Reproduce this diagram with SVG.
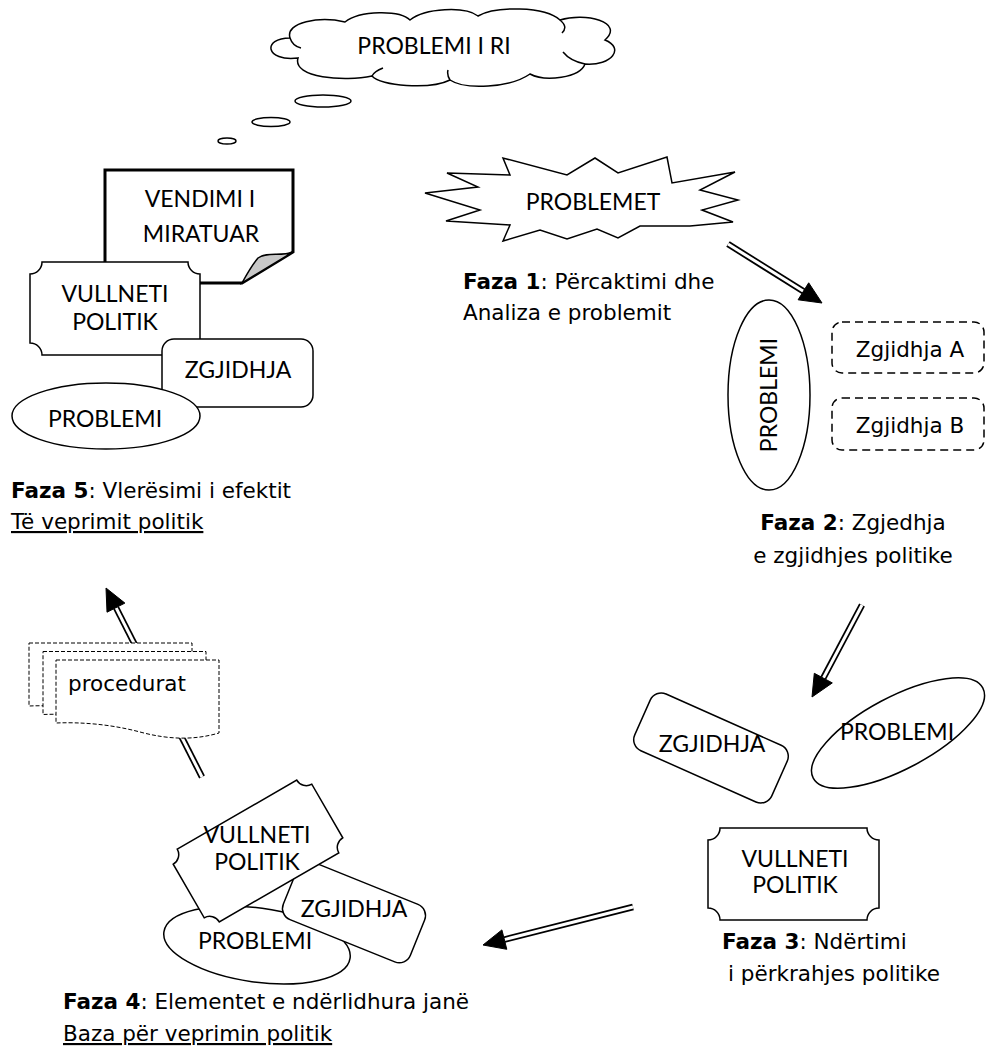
<svg xmlns="http://www.w3.org/2000/svg" width="987" height="1060" viewBox="0 0 987 1060">
<style>
.s{fill:#fff;stroke:#000;stroke-width:1.5}
.ln{fill:none;stroke:#000;stroke-width:1.5}
.dsh{fill:#fff;stroke:#000;stroke-width:1.5;stroke-dasharray:8 5}
.thin{fill:#fff;stroke:#000;stroke-width:1;stroke-dasharray:4 2}
.t{font-family:Lato,"Liberation Sans",Arial,sans-serif;font-size:23px;text-anchor:middle;fill:#000}
.f{font-family:"DejaVu Sans",Verdana,sans-serif;font-size:21.5px;fill:#000}
.m{text-anchor:middle}
.b{font-weight:bold}
.u{text-decoration:underline}
.so{fill:none;stroke:#000;stroke-width:6.5}
.si{fill:none;stroke:#fff;stroke-width:3}
.hd{fill:#000;stroke:#000;stroke-width:1}
</style>
<defs>
<path id="doc" d="M0,0 H163 V73 C139,80 114,80 84,72 C54,64 24,62 0,63 Z"/>
</defs>

<g id="connectors">
  <!-- Phase 1 -> Phase 2 -->
  <line class="so" x1="728" y1="244" x2="803.4" y2="291.3"/>
  <line class="si" x1="728" y1="244" x2="803.4" y2="291.3"/>
  <polygon class="hd" points="822,303 798.1,299.8 808.7,282.8"/>
  <!-- Phase 2 -> Phase 3 -->
  <line class="so" x1="862" y1="605" x2="823.3" y2="678.1"/>
  <line class="si" x1="862" y1="605" x2="823.3" y2="678.1"/>
  <polygon class="hd" points="812,697 814.3,673.3 832.3,682.9"/>
  <!-- Phase 3 -> Phase 4 -->
  <line class="so" x1="633" y1="907" x2="504.3" y2="939.6"/>
  <line class="si" x1="633" y1="907" x2="504.3" y2="939.6"/>
  <polygon class="hd" points="483,945 501.9,929.9 506.8,949.3"/>
  <!-- Phase 4 -> Phase 5 -->
  <line class="so" x1="202" y1="777" x2="116" y2="607.6"/>
  <line class="si" x1="202" y1="777" x2="116" y2="607.6"/>
  <polygon class="hd" points="106,588 124.9,603.1 107,612.2"/>
</g>

<g id="cloud-problemi-i-ri">
  <path class="s" d="M298,58 C265,62 262,38 290,38 C285,22 320,16 345,22 C360,10 400,10 410,20 C425,8 465,6 478,16 C495,6 545,6 560,20 C585,12 625,22 605,40 C625,48 612,66 585,64 C580,78 545,82 530,74 C510,88 465,90 450,80 C430,90 380,86 372,76 C345,82 292,78 298,58 Z"/>
  <path class="ln" d="M290,38 C292,44 296,47 301,48 M560,20 C566,25 566,29 562,33 M585,64 C575,62 567,57 563,52 M372,76 C374,72 378,70 383,68 M450,80 C448,77 447,74 448,70"/>
  <text class="t" x="434" y="54">PROBLEMI I RI</text>
</g>

<g id="thought-bubbles">
  <ellipse class="s" cx="323" cy="101" rx="28" ry="6"/>
  <ellipse class="s" cx="271" cy="122" rx="19" ry="4.5"/>
  <ellipse class="s" cx="227" cy="141" rx="9" ry="3"/>
</g>

<g id="vendimi-miratuar">
  <path d="M105,170 H293 V252 L242,283 H105 Z" fill="#fff" stroke="#000" stroke-width="3" stroke-linejoin="miter"/>
  <path d="M293,252 C280,257 268,251 258,258 C253,264 248,272 242,283 Z" fill="#c8c8c8" stroke="#000" stroke-width="1.5"/>
  <text class="t" x="200" y="207">VENDIMI I</text>
  <text class="t" x="201" y="242">MIRATUAR</text>
</g>

<g id="vullneti-1">
  <path class="s" d="M42,262 H188 A12,12 0 0 0 200,274 V343 A12,12 0 0 0 188,355 H42 A12,12 0 0 0 30,343 V274 A12,12 0 0 0 42,262 Z"/>
  <text class="t" x="115" y="302">VULLNETI</text>
  <text class="t" x="115" y="330">POLITIK</text>
</g>

<g id="zgjidhja-1">
  <rect class="s" x="162" y="339" width="151" height="68" rx="12"/>
  <text class="t" x="238" y="378">ZGJIDHJA</text>
</g>

<g id="problemi-1">
  <ellipse class="s" cx="106" cy="416" rx="94" ry="33"/>
  <text class="t" x="105" y="427">PROBLEMI</text>
</g>

<g id="faza5-label">
  <text class="f" x="11" y="498"><tspan class="b">Faza 5</tspan>: Vlerësimi i efektit</text>
  <text class="f u" x="11" y="529">Të veprimit politik</text>
</g>

<g id="problemet">
  <polygon class="s" points="425,193 478,187 447,173 510,175 503,158 567,175 595,158 618,173 667,157 672,183 735,172 700,190 738,200 702,210 733,222 690,226 640,226 618,238 597,229 567,239 540,230 503,241 510,225 446,221 480,210"/>
  <text class="t" x="593" y="210">PROBLEMET</text>
</g>

<g id="faza1-label">
  <text class="f" x="463" y="289"><tspan class="b">Faza 1</tspan>: Përcaktimi dhe</text>
  <text class="f" x="463" y="320">Analiza e problemit</text>
</g>

<g id="problemi-2">
  <ellipse class="s" cx="769" cy="395" rx="41" ry="95"/>
  <text class="t" x="769" y="403" transform="rotate(-90 769 395)">PROBLEMI</text>
</g>

<g id="zgjidhja-a">
  <rect class="dsh" x="832" y="322" width="152" height="51" rx="10"/>
  <text class="f m" x="910" y="357">Zgjidhja A</text>
</g>

<g id="zgjidhja-b">
  <rect class="dsh" x="832" y="398" width="152" height="52" rx="10"/>
  <text class="f m" x="910" y="433">Zgjidhja B</text>
</g>

<g id="faza2-label">
  <text class="f m" x="853" y="530"><tspan class="b">Faza 2</tspan>: Zgjedhja</text>
  <text class="f m" x="853" y="563">e zgjidhjes politike</text>
</g>

<g id="zgjidhja-3">
  <rect class="s" x="-75" y="-31" width="150" height="62" rx="12" transform="translate(711,748) rotate(24)"/>
  <text class="t" x="712" y="752">ZGJIDHJA</text>
</g>

<g id="problemi-3">
  <ellipse class="s" cx="0" cy="0" rx="96" ry="36" transform="translate(898,733) rotate(-28)"/>
  <text class="t" x="897" y="740">PROBLEMI</text>
</g>

<g id="vullneti-3">
  <path class="s" d="M720,828 H867 A12,12 0 0 0 879,840 V908 A12,12 0 0 0 867,920 H720 A12,12 0 0 0 708,908 V840 A12,12 0 0 0 720,828 Z"/>
  <text class="t" x="795" y="867">VULLNETI</text>
  <text class="t" x="795" y="893">POLITIK</text>
</g>

<g id="faza3-label">
  <text class="f" x="722" y="949"><tspan class="b">Faza 3</tspan>: Ndërtimi</text>
  <text class="f" x="728" y="981">i përkrahjes politike</text>
</g>

<g id="procedurat">
  <use href="#doc" class="thin" transform="translate(29,643)"/>
  <use href="#doc" class="thin" transform="translate(43,651.5)"/>
  <use href="#doc" class="thin" transform="translate(56,660)"/>
  <text class="f" x="68" y="691">procedurat</text>
</g>

<g id="problemi-4">
  <ellipse class="s" cx="0" cy="0" rx="94" ry="37" transform="translate(257,945) rotate(8)"/>
</g>

<g id="zgjidhja-4">
  <rect class="s" x="-68.5" y="-31" width="137" height="62" rx="12" transform="translate(354,912) rotate(22)"/>
  <text class="t" x="354" y="917">ZGJIDHJA</text>
</g>

<g id="vullneti-4">
  <path class="s" d="M-69,-42 H69 A11,11 0 0 0 80,-31 V31 A11,11 0 0 0 69,42 H-69 A11,11 0 0 0 -80,31 V-31 A11,11 0 0 0 -69,-42 Z" transform="translate(258,851) rotate(-30)"/>
  <text class="t" x="257" y="843">VULLNETI</text>
  <text class="t" x="257" y="870">POLITIK</text>
</g>

<g id="problemi-4-label">
  <text class="t" x="255" y="949">PROBLEMI</text>
</g>

<g id="faza4-label">
  <text class="f" x="63" y="1009"><tspan class="b">Faza 4</tspan>: Elementet e ndërlidhura janë</text>
  <text class="f u" x="63" y="1041">Baza për veprimin politik</text>
</g>
</svg>
